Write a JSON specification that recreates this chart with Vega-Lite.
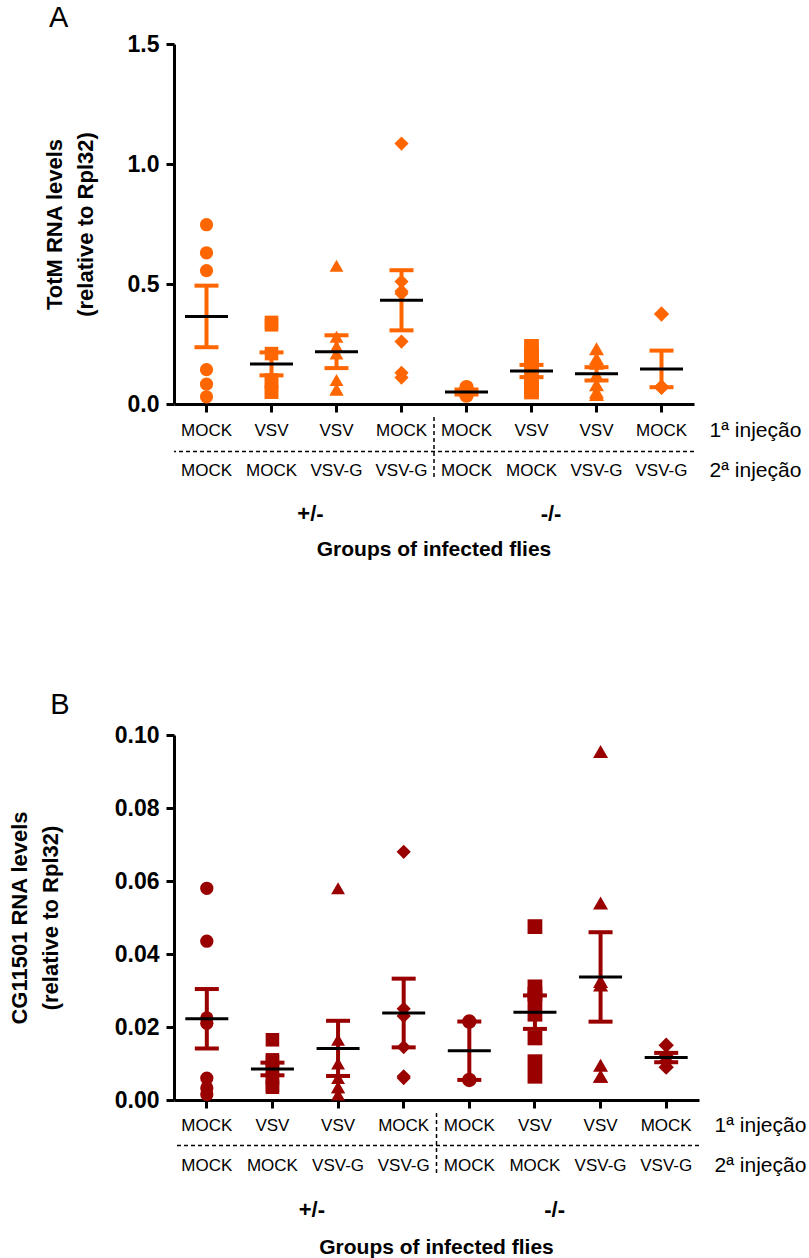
{
 "$schema": "https://vega.github.io/schema/vega-lite/v6.json",
 "background": "white",
 "padding": {"left": 8, "top": 4, "right": 0, "bottom": 0},
 "spacing": 0,
 "config": {
  "view": {"stroke": null},
  "font": "Liberation Sans",
  "axis": {"grid": false, "domainColor": "black", "domainWidth": 3, "tickColor": "black", "tickWidth": 3, "tickSize": 8,
   "labelFont": "Liberation Sans", "labelFontWeight": "bold", "labelFontSize": 23, "labelColor": "black", "labelPadding": 7,
   "titleFont": "Liberation Sans", "titleFontWeight": "bold", "titleFontSize": 22, "titleColor": "black", "titleLineHeight": 31},
  "title": {"font": "Liberation Sans", "fontSize": 29, "fontWeight": "normal", "color": "black", "anchor": "start"}
 },
 "datasets": {
  "totm": [
   {"g":"g1","v":0.747},{"g":"g1","v":0.63},{"g":"g1","v":0.556},{"g":"g1","v":0.143},{"g":"g1","v":0.083},{"g":"g1","v":0.03},
   {"g":"g2","v":0.34},{"g":"g2","v":0.33},{"g":"g2","v":0.21},{"g":"g2","v":0.10},{"g":"g2","v":0.09},{"g":"g2","v":0.05},{"g":"g2","v":0.05},
   {"g":"g3","v":0.576},{"g":"g3","v":0.28},{"g":"g3","v":0.24},{"g":"g3","v":0.21},{"g":"g3","v":0.10},{"g":"g3","v":0.06},{"g":"g3","v":0.06},
   {"g":"g4","v":1.085},{"g":"g4","v":0.51},{"g":"g4","v":0.47},{"g":"g4","v":0.46},{"g":"g4","v":0.26},{"g":"g4","v":0.13},{"g":"g4","v":0.11},
   {"g":"g5","v":0.07},{"g":"g5","v":0.045},{"g":"g5","v":0.035},
   {"g":"g6","v":0.24},{"g":"g6","v":0.21},{"g":"g6","v":0.18},{"g":"g6","v":0.17},{"g":"g6","v":0.11},{"g":"g6","v":0.08},{"g":"g6","v":0.06},{"g":"g6","v":0.05},
   {"g":"g7","v":0.23},{"g":"g7","v":0.19},{"g":"g7","v":0.17},{"g":"g7","v":0.12},{"g":"g7","v":0.08},{"g":"g7","v":0.05},{"g":"g7","v":0.04},
   {"g":"g8","v":0.375},{"g":"g8","v":0.07},{"g":"g8","v":0.07},{"g":"g8","v":0.07}
  ],
  "cg": [
   {"g":"g1","v":0.058},{"g":"g1","v":0.0435},{"g":"g1","v":0.0225},{"g":"g1","v":0.021},{"g":"g1","v":0.006},{"g":"g1","v":0.0033},{"g":"g1","v":0.0015},
   {"g":"g2","v":0.0165},{"g":"g2","v":0.011},{"g":"g2","v":0.0105},{"g":"g2","v":0.008},{"g":"g2","v":0.006},{"g":"g2","v":0.004},{"g":"g2","v":0.0035},
   {"g":"g3","v":0.058},{"g":"g3","v":0.0165},{"g":"g3","v":0.01},{"g":"g3","v":0.006},{"g":"g3","v":0.0035},{"g":"g3","v":0.0035},{"g":"g3","v":0.0015},
   {"g":"g4","v":0.068},{"g":"g4","v":0.025},{"g":"g4","v":0.023},{"g":"g4","v":0.0145},{"g":"g4","v":0.006},{"g":"g4","v":0.0065},
   {"g":"g5","v":0.0215},{"g":"g5","v":0.0055},
   {"g":"g6","v":0.0475},{"g":"g6","v":0.031},{"g":"g6","v":0.029},{"g":"g6","v":0.0275},{"g":"g6","v":0.0235},{"g":"g6","v":0.017},{"g":"g6","v":0.0105},{"g":"g6","v":0.0065},
   {"g":"g7","v":0.0955},{"g":"g7","v":0.054},{"g":"g7","v":0.0325},{"g":"g7","v":0.0315},{"g":"g7","v":0.0095},{"g":"g7","v":0.0065},{"g":"g7","v":0.0065},
   {"g":"g8","v":0.015},{"g":"g8","v":0.012},{"g":"g8","v":0.0105},{"g":"g8","v":0.009}
  ],
  "labels": [
   {"g":"g1","r":"1ª injeção","t":"MOCK"},{"g":"g2","r":"1ª injeção","t":"VSV"},{"g":"g3","r":"1ª injeção","t":"VSV"},{"g":"g4","r":"1ª injeção","t":"MOCK"},
   {"g":"g5","r":"1ª injeção","t":"MOCK"},{"g":"g6","r":"1ª injeção","t":"VSV"},{"g":"g7","r":"1ª injeção","t":"VSV"},{"g":"g8","r":"1ª injeção","t":"MOCK"},
   {"g":"g1","r":"2ª injeção","t":"MOCK"},{"g":"g2","r":"2ª injeção","t":"MOCK"},{"g":"g3","r":"2ª injeção","t":"VSV-G"},{"g":"g4","r":"2ª injeção","t":"VSV-G"},
   {"g":"g5","r":"2ª injeção","t":"MOCK"},{"g":"g6","r":"2ª injeção","t":"MOCK"},{"g":"g7","r":"2ª injeção","t":"VSV-G"},{"g":"g8","r":"2ª injeção","t":"VSV-G"},
   {"g":"g3","r":"geno","t":"+/-"},{"g":"g6","r":"geno","t":"-/-"},
   {"g":"g4","r":"gt","t":"Groups of infected flies"}
  ]
 },
 "vconcat": [
  {
   "title": {"text": "A", "dx": 6, "offset": 0},
   "width": 520, "height": 360,
   "data": {"name": "totm"},
   "layer": [
    {"mark": {"type": "point", "filled": true, "opacity": 1, "strokeWidth": 0, "color": "#FF6600"},
     "encoding": {
      "x": {"field": "g", "type": "nominal", "title": null, "scale": {"type": "band", "domain": ["g1","g2","g3","g4","g5","g6","g7","g8"], "paddingInner": 0, "paddingOuter": 0}, "axis": {"labels": false}},
      "y": {"field": "v", "type": "quantitative", "title": ["TotM RNA levels", "(relative to Rpl32)"], "scale": {"domain": [0, 1.5], "nice": false}, "axis": {"values": [0, 0.5, 1, 1.5], "format": ".1f", "titlePadding": 30}},
      "shape": {"field": "g", "type": "nominal", "scale": {"domain": ["g1","g2","g3","g4","g5","g6","g7","g8"], "range": ["circle","square","triangle-up","diamond","circle","square","triangle-up","diamond"]}, "legend": null},
      "size": {"field": "g", "type": "nominal", "scale": {"domain": ["g1","g2","g3","g4","g5","g6","g7","g8"], "range": [175,235,240,300,175,235,240,300]}, "legend": null}
     }},
    {"mark": {"type": "errorbar", "extent": "stderr", "color": "#FF6600", "opacity": 1, "thickness": 4, "size": 24, "ticks": {"color": "#FF6600", "opacity": 1}, "rule": {"strokeWidth": 4, "color": "#FF6600", "opacity": 1}},
     "encoding": {"x": {"field": "g", "type": "nominal", "title": null}, "y": {"field": "v", "type": "quantitative", "title": ["TotM RNA levels", "(relative to Rpl32)"]}}},
    {"mark": {"type": "tick", "color": "black", "size": 43, "thickness": 3, "opacity": 1},
     "encoding": {"x": {"field": "g", "type": "nominal", "title": null}, "y": {"field": "v", "type": "quantitative", "aggregate": "mean", "title": ["TotM RNA levels", "(relative to Rpl32)"]}}}
   ]
  },
  {
   "width": 520, "height": 274,
   "data": {"name": "labels"},
   "layer": [
    {"transform": [{"filter": "datum.r=='1ª injeção'||datum.r=='2ª injeção'"}],
     "mark": {"type": "text", "fontSize": 17, "color": "black", "dy": -6},
     "encoding": {
      "x": {"field": "g", "type": "nominal", "scale": {"type": "band", "domain": ["g1","g2","g3","g4","g5","g6","g7","g8"], "paddingInner": 0, "paddingOuter": 0}, "axis": null},
      "y": {"field": "r", "type": "nominal", "scale": {"type": "band", "domain": ["1ª injeção","2ª injeção","geno","gt","s1"], "paddingInner": 0, "paddingOuter": 0.925, "align": 0},
            "axis": {"orient": "right", "title": null, "domain": false, "ticks": false, "labelFontWeight": "normal", "labelFontSize": 21, "labelPadding": 15, "labelOffset": -6, "labelExpr": "datum.value=='1ª injeção'||datum.value=='2ª injeção'?datum.value:''"}},
      "text": {"field": "t"}}},
    {"transform": [{"filter": "datum.t=='+/-'"}],
     "mark": {"type": "text", "fontSize": 22, "fontWeight": "bold", "color": "black", "dy": -3},
     "encoding": {"x": {"field": "g", "type": "nominal", "bandPosition": 0.1}, "y": {"field": "r", "type": "nominal"}, "text": {"field": "t"}}},
    {"transform": [{"filter": "datum.t=='-/-'"}],
     "mark": {"type": "text", "fontSize": 22, "fontWeight": "bold", "color": "black", "dy": -3},
     "encoding": {"x": {"field": "g", "type": "nominal", "bandPosition": 0.8}, "y": {"field": "r", "type": "nominal"}, "text": {"field": "t"}}},
    {"transform": [{"filter": "datum.r=='gt'"}],
     "mark": {"type": "text", "fontSize": 21, "fontWeight": "bold", "color": "black", "dy": -7},
     "encoding": {"x": {"field": "g", "type": "nominal", "bandPosition": 1}, "y": {"field": "r", "type": "nominal"}, "text": {"field": "t"}}},
    {"transform": [{"filter": "datum.t=='+/-'"}],
     "mark": {"type": "rule", "strokeDash": [4, 3], "strokeWidth": 1.5, "color": "black"},
     "encoding": {"y": {"datum": "1ª injeção", "type": "nominal", "bandPosition": 0.86}}},
    {"transform": [{"filter": "datum.t=='+/-'"}],
     "mark": {"type": "rule", "strokeDash": [4, 3], "strokeWidth": 1.5, "color": "black"},
     "encoding": {"x": {"datum": "g5", "type": "nominal", "bandPosition": 0}, "y": {"datum": "1ª injeção", "type": "nominal", "bandPosition": 0}, "y2": {"datum": "2ª injeção"}}}
   ]
  },
  {
   "title": {"text": "B", "dx": 42, "offset": 4},
   "width": 525, "height": 365,
   "data": {"name": "cg"},
   "layer": [
    {"mark": {"type": "point", "filled": true, "opacity": 1, "strokeWidth": 0, "color": "#990000"},
     "encoding": {
      "x": {"field": "g", "type": "nominal", "title": null, "scale": {"type": "band", "domain": ["g1","g2","g3","g4","g5","g6","g7","g8"], "paddingInner": 0, "paddingOuter": 0}, "axis": {"labels": false}},
      "y": {"field": "v", "type": "quantitative", "title": ["CG11501 RNA levels", "(relative to Rpl32)"], "scale": {"domain": [0, 0.1], "nice": false}, "axis": {"values": [0, 0.02, 0.04, 0.06, 0.08, 0.1], "format": ".2f", "titlePadding": 52}},
      "shape": {"field": "g", "type": "nominal", "scale": {"domain": ["g1","g2","g3","g4","g5","g6","g7","g8"], "range": ["circle","square","triangle-up","diamond","circle","square","triangle-up","diamond"]}, "legend": null},
      "size": {"field": "g", "type": "nominal", "scale": {"domain": ["g1","g2","g3","g4","g5","g6","g7","g8"], "range": [175,235,240,300,175,235,240,300]}, "legend": null}
     }},
    {"mark": {"type": "errorbar", "extent": "stderr", "color": "#990000", "opacity": 1, "thickness": 4, "size": 24, "ticks": {"color": "#990000", "opacity": 1}, "rule": {"strokeWidth": 4, "color": "#990000", "opacity": 1}},
     "encoding": {"x": {"field": "g", "type": "nominal", "title": null}, "y": {"field": "v", "type": "quantitative", "title": ["CG11501 RNA levels", "(relative to Rpl32)"]}}},
    {"mark": {"type": "tick", "color": "black", "size": 43, "thickness": 3, "opacity": 1},
     "encoding": {"x": {"field": "g", "type": "nominal", "title": null}, "y": {"field": "v", "type": "quantitative", "aggregate": "mean", "title": ["CG11501 RNA levels", "(relative to Rpl32)"]}}}
   ]
  },
  {
   "width": 525, "height": 160,
   "data": {"name": "labels"},
   "layer": [
    {"transform": [{"filter": "datum.r=='1ª injeção'||datum.r=='2ª injeção'"}],
     "mark": {"type": "text", "fontSize": 17, "color": "black", "dy": -7},
     "encoding": {
      "x": {"field": "g", "type": "nominal", "scale": {"type": "band", "domain": ["g1","g2","g3","g4","g5","g6","g7","g8"], "paddingInner": 0, "paddingOuter": 0}, "axis": null},
      "y": {"field": "r", "type": "nominal", "scale": {"type": "band", "domain": ["1ª injeção","2ª injeção","geno","gt"], "paddingInner": 0, "paddingOuter": 0},
            "axis": {"orient": "right", "title": null, "domain": false, "ticks": false, "labelFontWeight": "normal", "labelFontSize": 21, "labelPadding": 15, "labelOffset": -7, "labelExpr": "datum.value=='1ª injeção'||datum.value=='2ª injeção'?datum.value:''"}},
      "text": {"field": "t"}}},
    {"transform": [{"filter": "datum.t=='+/-'"}],
     "mark": {"type": "text", "fontSize": 22, "fontWeight": "bold", "color": "black", "dy": -3},
     "encoding": {"x": {"field": "g", "type": "nominal", "bandPosition": 0.1}, "y": {"field": "r", "type": "nominal"}, "text": {"field": "t"}}},
    {"transform": [{"filter": "datum.t=='-/-'"}],
     "mark": {"type": "text", "fontSize": 22, "fontWeight": "bold", "color": "black", "dy": -3},
     "encoding": {"x": {"field": "g", "type": "nominal", "bandPosition": 0.8}, "y": {"field": "r", "type": "nominal"}, "text": {"field": "t"}}},
    {"transform": [{"filter": "datum.r=='gt'"}],
     "mark": {"type": "text", "fontSize": 21, "fontWeight": "bold", "color": "black", "dy": -5},
     "encoding": {"x": {"field": "g", "type": "nominal", "bandPosition": 1}, "y": {"field": "r", "type": "nominal"}, "text": {"field": "t"}}},
    {"transform": [{"filter": "datum.t=='+/-'"}],
     "mark": {"type": "rule", "strokeDash": [4, 3], "strokeWidth": 1.5, "color": "black"},
     "encoding": {"y": {"datum": "1ª injeção", "type": "nominal", "bandPosition": 0.81}}},
    {"transform": [{"filter": "datum.t=='+/-'"}],
     "mark": {"type": "rule", "strokeDash": [4, 3], "strokeWidth": 1.5, "color": "black"},
     "encoding": {"x": {"datum": "g5", "type": "nominal", "bandPosition": 0}, "y": {"datum": "1ª injeção", "type": "nominal", "bandPosition": 0}, "y2": {"datum": "2ª injeção"}}}
   ]
  }
 ]
}
